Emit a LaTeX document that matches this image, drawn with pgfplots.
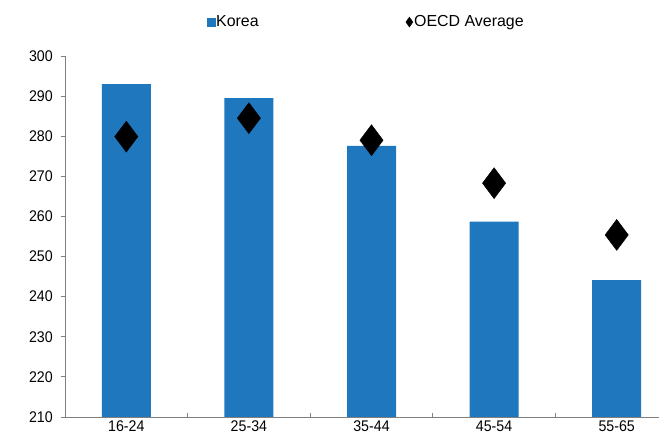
\documentclass[border=0pt]{standalone}
\usepackage{fontspec}
\setmainfont{Liberation Sans}
\newfontfamily\tickfont{Liberation Sans}[FakeStretch=0.92]
\usepackage{pgfplots}
\pgfplotsset{compat=1.18}
\definecolor{korea}{RGB}{31,119,190}
\definecolor{axgray}{RGB}{128,128,128}

\begin{document}
\begin{tikzpicture}
\path[use as bounding box] (0,0) rectangle (659bp,436bp);
\begin{axis}[
  at={(65bp,19bp)}, anchor=south west,
  scale only axis, width=613bp, height=361bp,
  xmin=-0.5, xmax=4.5, ymin=210, ymax=300,
  ytick={210,220,...,300},
  xtick={0,...,4},
  xticklabels={16-24,25-34,35-44,45-54,55-65},
  minor xtick={0.5,1.5,2.5,3.5},
  axis x line*=bottom, axis y line*=left,
  axis line style={axgray, line width=0.8bp, -},
  xtick align=inside, ytick align=outside,
  major x tick style={draw=none},
  minor x tick style={axgray, line width=0.8bp},
  major y tick style={axgray, line width=0.8bp},
  major tick length=4bp, minor tick length=4bp,
  tick label style={font=\tickfont\fontsize{15.5}{15.5}\selectfont},
  /pgf/number format/assume math mode=true,
  xticklabel style={inner sep=0.5bp, yshift=-3.5bp},
  yticklabel style={inner sep=1bp, xshift=-7bp},
  legend columns=2,
  legend style={at={(0.2316,1.094)}, anchor=west, draw=none, fill=none,
    inner sep=0pt, font=\fontsize{16}{16}\selectfont,
    nodes={inner sep=1bp},
    /tikz/every even column/.append style={column sep=146bp}},
]
\addplot[ybar, bar width=49bp, fill=korea, draw=none, forget plot]
  coordinates {(0,293)(1,289.5)(2,277.6)(3,258.7)(4,244.1)};
\addplot[only marks, mark=diamond*, mark size=15.5bp, black, forget plot]
  coordinates {(0,279.9)(1,284.5)(2,279)(3,268.3)(4,255.4)};
\addlegendimage{legend image code/.code={\fill[korea] (-3.8bp,-4.2bp) rectangle (3.8bp,4.2bp);}}
\addlegendentry{Korea}
\addlegendimage{legend image code/.code={\fill[black] (0,5bp) -- (3.5bp,0) -- (0,-5bp) -- (-3.5bp,0) -- cycle;}}
\addlegendentry{OECD Average}
\end{axis}
\end{tikzpicture}
\end{document}
